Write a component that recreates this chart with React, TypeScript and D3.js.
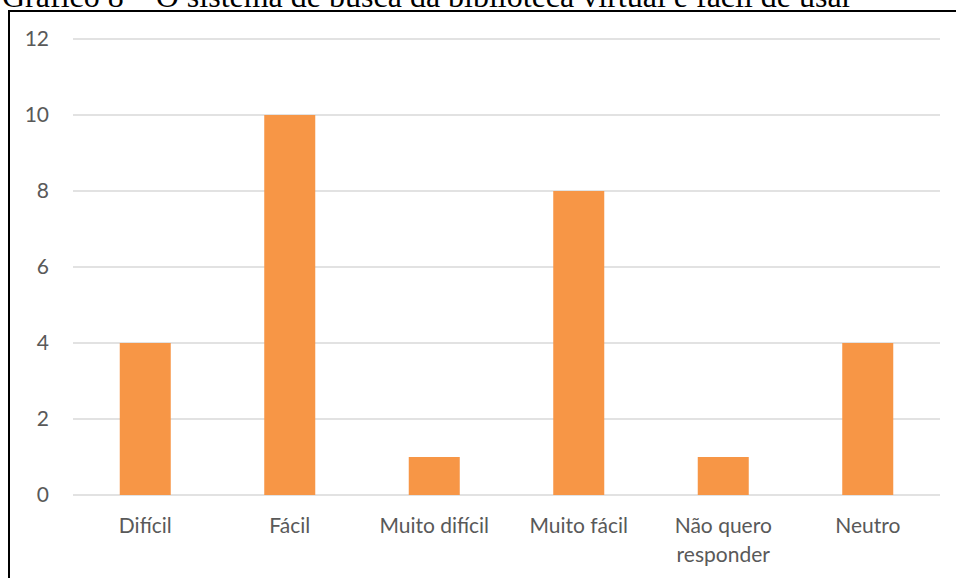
import React, { useRef, useEffect } from 'react'
import * as d3 from 'd3'

const categories = ['Difícil', 'Fácil', 'Muito difícil', 'Muito fácil', 'Não quero\nresponder', 'Neutro']
const values = [4, 10, 1, 8, 1, 4]
const yTicks = [0, 2, 4, 6, 8, 10, 12]
const title = 'Gráfico 8 – O sistema de busca da biblioteca virtual é fácil de usar'

export default function App() {
  const svgRef = useRef<SVGSVGElement>(null)

  useEffect(() => {
    if (!svgRef.current) return
    const svg = d3.select(svgRef.current)
    svg.selectAll('*').remove()

    const left = 73, right = 940, top = 39, bottom = 495

    const x = d3.scaleBand().domain(categories).range([left, right]).padding(0)
    const y = d3.scaleLinear().domain([0, 12]).range([bottom, top])
    const barW = x.bandwidth() * 0.353
    const font = 'Lato, sans-serif'

    // Title (cropped at the top of the page, as in the source)
    svg.append('text')
      .attr('x', 2).attr('y', 7)
      .attr('font-family', '"Liberation Serif", "Times New Roman", serif')
      .attr('font-size', 32)
      .attr('fill', '#000')
      .text(title)

    // Frame
    svg.append('rect')
      .attr('x', 9).attr('y', 11)
      .attr('width', 1000).attr('height', 700)
      .attr('fill', 'none').attr('stroke', '#000').attr('stroke-width', 2)

    // Grid
    svg.append('g')
      .selectAll('line')
      .data(yTicks)
      .join('line')
      .attr('x1', left).attr('x2', right)
      .attr('y1', d => y(d)).attr('y2', d => y(d))
      .attr('stroke', '#d9d9d9').attr('stroke-width', 1.5)

    // Y labels
    svg.append('g')
      .selectAll('text')
      .data(yTicks)
      .join('text')
      .attr('x', 49).attr('y', d => y(d) + 7)
      .attr('text-anchor', 'end')
      .attr('font-family', font)
      .attr('font-size', 21)
      .attr('fill', '#595959')
      .text(d => d)

    // Bars
    svg.append('g')
      .selectAll('rect')
      .data(values)
      .join('rect')
      .attr('x', (_, i) => x(categories[i])! + (x.bandwidth() - barW) / 2)
      .attr('y', d => y(d))
      .attr('width', barW)
      .attr('height', d => y(0) - y(d))
      .attr('fill', '#f79646')

    // X labels
    const xl = svg.append('g')
      .selectAll('text')
      .data(categories)
      .join('text')
      .attr('x', d => x(d)! + x.bandwidth() / 2)
      .attr('y', 533)
      .attr('text-anchor', 'middle')
      .attr('font-family', font)
      .attr('font-size', 21)
      .attr('fill', '#595959')
    xl.each(function (d) {
      d.split('\n').forEach((line, i) => {
        d3.select(this).append('tspan')
          .attr('x', x(d)! + x.bandwidth() / 2)
          .attr('dy', i === 0 ? 0 : 29)
          .text(line)
      })
    })
  }, [])

  return (
    <svg ref={svgRef} width={956} height={578}
      style={{ position: 'absolute', left: 0, top: 0, background: '#fff' }} />
  )
}
